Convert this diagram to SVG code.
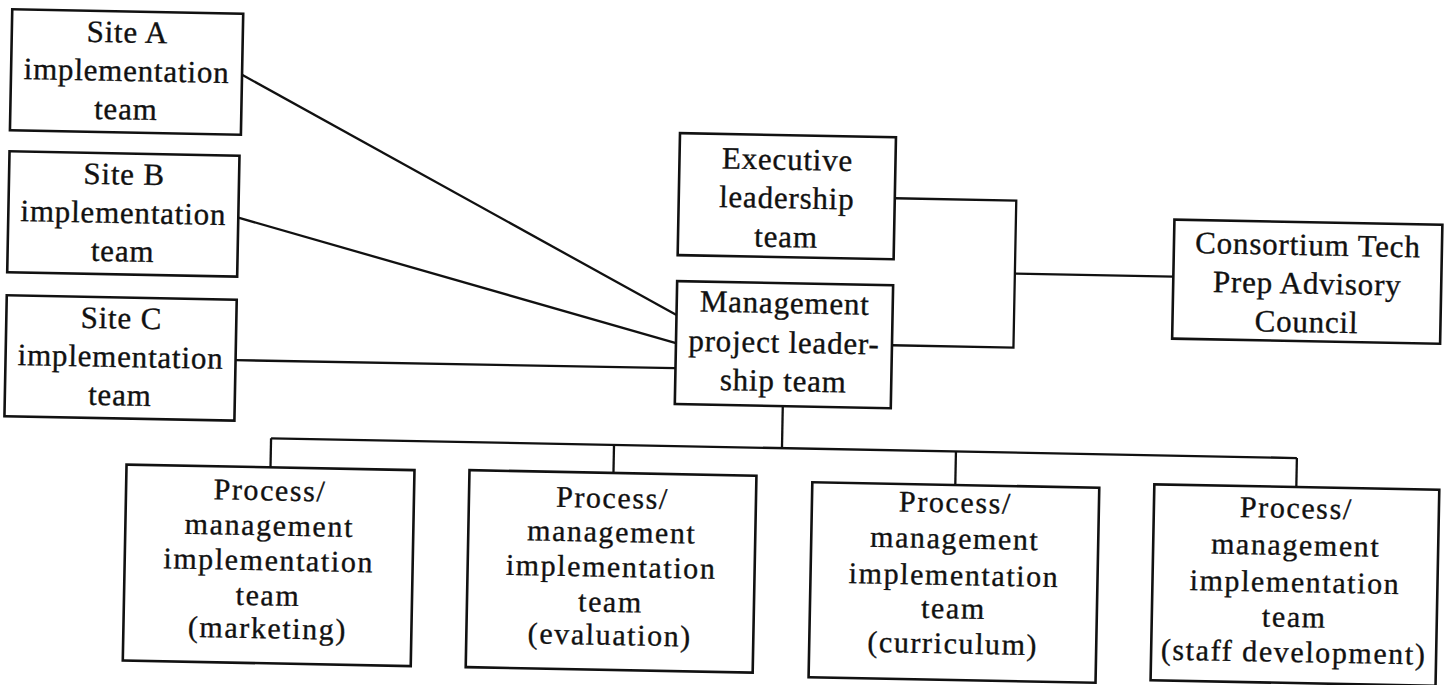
<svg xmlns="http://www.w3.org/2000/svg" width="1447" height="685" viewBox="0 0 1447 685">
  <style>
    .box { fill: #ffffff; stroke: #111111; stroke-width: 2.6; }
    .link { fill: none; stroke: #111111; stroke-width: 2.3; stroke-linejoin: miter; }
    .lbl { font-family: "Liberation Serif", "Times New Roman", serif; font-size: 31px; letter-spacing: 0.8px; fill: #111111; stroke: #111111; stroke-width: 0.35; text-anchor: middle; }
    .lbl2 { font-family: "Liberation Serif", "Times New Roman", serif; font-size: 30px; letter-spacing: 1.6px; fill: #111111; stroke: #111111; stroke-width: 0.35; text-anchor: middle; }
  </style>
  <rect width="1447" height="685" fill="#ffffff"/>
  <!-- the whole chart sits with a slight clockwise tilt -->
  <g transform="rotate(1.1 723 342)">
    <g id="connectors">
      <line class="link" x1="237" y1="84" x2="676" y2="316"/>
      <line class="link" x1="236" y1="227" x2="676" y2="344"/>
      <line class="link" x1="236" y1="369.5" x2="676" y2="369"/>
      <polyline class="link" points="892,195 1013.5,195 1013.5,342 892,342"/>
      <line class="link" x1="1013.5" y1="268" x2="1172" y2="268"/>
      <line class="link" x1="784" y1="405" x2="784" y2="447"/>
      <line class="link" x1="273" y1="447" x2="1299" y2="447"/>
      <line class="link" x1="273" y1="447" x2="273" y2="476"/>
      <line class="link" x1="616" y1="447" x2="616" y2="475"/>
      <line class="link" x1="958" y1="447" x2="958" y2="480.5"/>
      <line class="link" x1="1299" y1="447" x2="1299" y2="476"/>
    </g>

    <g id="site-a">
      <rect class="box" x="6" y="23" width="231" height="121"/>
      <text class="lbl" x="121.5" y="54">Site A</text>
      <text class="lbl" x="121.5" y="92.5">implementation</text>
      <text class="lbl" x="121.5" y="131">team</text>
    </g>
    <g id="site-b">
      <rect class="box" x="6" y="165" width="230" height="121"/>
      <text class="lbl" x="121" y="196">Site B</text>
      <text class="lbl" x="121" y="234.5">implementation</text>
      <text class="lbl" x="121" y="273">team</text>
    </g>
    <g id="site-c">
      <rect class="box" x="6" y="309" width="230" height="121"/>
      <text class="lbl" x="121" y="340">Site C</text>
      <text class="lbl" x="121" y="378.5">implementation</text>
      <text class="lbl" x="121" y="417">team</text>
    </g>

    <g id="executive">
      <rect class="box" x="676" y="134" width="216" height="122"/>
      <text class="lbl" x="784" y="168.5">Executive</text>
      <text class="lbl" x="784" y="207">leadership</text>
      <text class="lbl" x="784" y="246">team</text>
    </g>
    <g id="management">
      <rect class="box" x="676" y="282" width="216" height="123"/>
      <text class="lbl" x="784" y="312">Management</text>
      <text class="lbl" x="784" y="351.5">project leader-</text>
      <text class="lbl" x="784" y="390">ship team</text>
    </g>
    <g id="consortium">
      <rect class="box" x="1172" y="211" width="268" height="119"/>
      <text class="lbl" x="1306" y="244">Consortium Tech</text>
      <text class="lbl" x="1306" y="282.5">Prep Advisory</text>
      <text class="lbl" x="1306" y="321">Council</text>
    </g>

    <g id="marketing">
      <rect class="box" x="129" y="476" width="288" height="196"/>
      <text class="lbl2" x="273" y="509">Process/</text>
      <text class="lbl2" x="273" y="544">management</text>
      <text class="lbl2" x="273" y="579">implementation</text>
      <text class="lbl2" x="273" y="614">team</text>
      <text class="lbl2" x="273" y="647">(marketing)</text>
    </g>
    <g id="evaluation">
      <rect class="box" x="472" y="475" width="287" height="197"/>
      <text class="lbl2" x="615.5" y="510">Process/</text>
      <text class="lbl2" x="615.5" y="544">management</text>
      <text class="lbl2" x="615.5" y="579">implementation</text>
      <text class="lbl2" x="615.5" y="614">team</text>
      <text class="lbl2" x="615.5" y="647">(evaluation)</text>
    </g>
    <g id="curriculum">
      <rect class="box" x="815" y="480.5" width="287" height="195"/>
      <text class="lbl2" x="958.5" y="508">Process/</text>
      <text class="lbl2" x="958.5" y="544">management</text>
      <text class="lbl2" x="958.5" y="580.5">implementation</text>
      <text class="lbl2" x="958.5" y="614">team</text>
      <text class="lbl2" x="958.5" y="649">(curriculum)</text>
    </g>
    <g id="staff-development">
      <rect class="box" x="1157" y="476" width="285" height="196"/>
      <text class="lbl2" x="1299.5" y="507">Process/</text>
      <text class="lbl2" x="1299.5" y="544">management</text>
      <text class="lbl2" x="1299.5" y="581">implementation</text>
      <text class="lbl2" x="1299.5" y="616">team</text>
      <text class="lbl2" x="1299.5" y="651">(staff development)</text>
    </g>
  </g>
</svg>
